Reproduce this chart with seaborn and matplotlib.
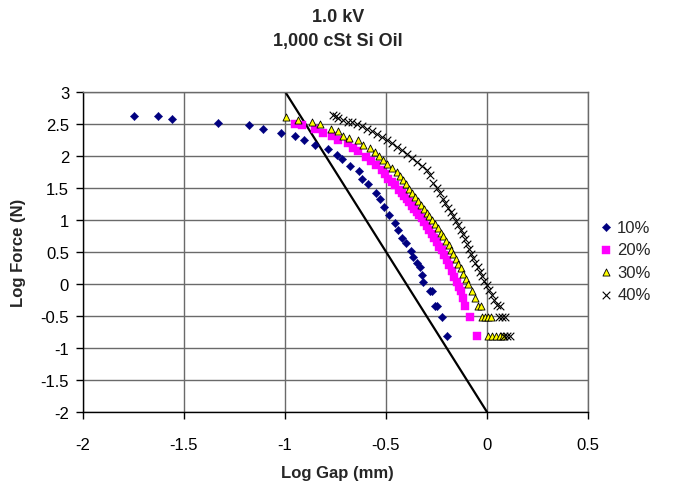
import numpy as np
import pandas as pd
import matplotlib
matplotlib.use("Agg")
import matplotlib.pyplot as plt
import seaborn as sns

# Log gap (mm) and log force (N) for each particle concentration
gap_10 = [-1.748, -1.627, -1.559, -1.332, -1.177, -1.109, -1.021, -0.949, -0.906,
          -0.851, -0.789, -0.744, -0.720, -0.678, -0.634, -0.618, -0.587, -0.551,
          -0.530, -0.510, -0.485, -0.455, -0.439, -0.422, -0.402, -0.376, -0.368,
          -0.348, -0.332, -0.323, -0.315, -0.282, -0.274, -0.257, -0.249, -0.224,
          -0.200]
force_10 = [2.61, 2.61, 2.57, 2.51, 2.47, 2.41, 2.36, 2.30, 2.24,
            2.16, 2.11, 2.01, 1.94, 1.84, 1.76, 1.64, 1.55, 1.42,
            1.32, 1.20, 1.07, 0.95, 0.84, 0.72, 0.63, 0.51, 0.42,
            0.32, 0.26, 0.13, 0.03, -0.12, -0.12, -0.35, -0.35, -0.52,
            -0.82]

gap_20 = [-0.949, -0.917, -0.851, -0.810, -0.769, -0.736, -0.690, -0.662, -0.637,
          -0.601, -0.574, -0.548, -0.521, -0.505, -0.489, -0.472, -0.455, -0.438,
          -0.422, -0.410, -0.398, -0.386, -0.373, -0.360, -0.348, -0.335, -0.323,
          -0.311, -0.299, -0.287, -0.274, -0.262, -0.249, -0.236, -0.224, -0.212,
          -0.200, -0.188, -0.175, -0.162, -0.150, -0.140, -0.130, -0.120, -0.109,
          -0.084, -0.051]
force_20 = [2.50, 2.47, 2.42, 2.36, 2.31, 2.25, 2.20, 2.12, 2.07,
            1.98, 1.92, 1.85, 1.77, 1.71, 1.64, 1.59, 1.54, 1.47,
            1.41, 1.37, 1.33, 1.27, 1.22, 1.17, 1.12, 1.07, 1.02,
            0.96, 0.90, 0.84, 0.78, 0.71, 0.65, 0.58, 0.52, 0.45,
            0.37, 0.29, 0.20, 0.11, 0.03, -0.05, -0.12, -0.22, -0.35,
            -0.52, -0.82]

gap_30 = [-0.997, -0.934, -0.865, -0.827, -0.772, -0.739, -0.711, -0.681, -0.637,
          -0.612, -0.579, -0.554, -0.533, -0.513, -0.493, -0.468, -0.447, -0.431,
          -0.415, -0.400, -0.385, -0.370, -0.355, -0.340, -0.326, -0.312, -0.299,
          -0.285, -0.271, -0.257, -0.243, -0.230, -0.216, -0.203, -0.190, -0.178,
          -0.166, -0.154, -0.142, -0.130, -0.117, -0.105, -0.092, -0.075, -0.059,
          -0.045, -0.030, -0.026, -0.010, 0.005, 0.020, 0.005, 0.025, 0.045,
          0.065, 0.080]
force_30 = [2.60, 2.56, 2.52, 2.49, 2.42, 2.38, 2.31, 2.28, 2.24,
            2.17, 2.12, 2.06, 2.00, 1.93, 1.87, 1.80, 1.74, 1.68,
            1.62, 1.55, 1.48, 1.42, 1.36, 1.29, 1.23, 1.17, 1.11,
            1.05, 0.99, 0.93, 0.87, 0.80, 0.74, 0.67, 0.60, 0.53,
            0.46, 0.39, 0.31, 0.24, 0.16, 0.08, -0.01, -0.12, -0.22,
            -0.35, -0.35, -0.52, -0.52, -0.52, -0.52, -0.82, -0.82, -0.82,
            -0.82, -0.82]

gap_40 = [-0.761, -0.748, -0.736, -0.711, -0.690, -0.670, -0.645, -0.620, -0.596,
          -0.571, -0.546, -0.521, -0.497, -0.472, -0.447, -0.423, -0.398, -0.373,
          -0.348, -0.323, -0.299, -0.282, -0.266, -0.250, -0.235, -0.220, -0.206,
          -0.193, -0.180, -0.167, -0.155, -0.143, -0.131, -0.120, -0.109, -0.099,
          -0.088, -0.078, -0.068, -0.058, -0.047, -0.035, -0.024, -0.013, -0.002,
          0.010, 0.023, 0.035, 0.048, 0.062, 0.060, 0.075, 0.089, 0.085,
          0.100, 0.115]
force_40 = [2.63, 2.61, 2.59, 2.55, 2.53, 2.52, 2.50, 2.46, 2.42,
            2.38, 2.34, 2.29, 2.24, 2.19, 2.13, 2.08, 2.03, 1.97,
            1.90, 1.84, 1.77, 1.69, 1.58, 1.49, 1.41, 1.33, 1.26,
            1.19, 1.12, 1.05, 0.98, 0.91, 0.84, 0.77, 0.70, 0.62,
            0.55, 0.47, 0.40, 0.33, 0.26, 0.19, 0.12, 0.05, -0.02,
            -0.10, -0.18, -0.25, -0.33, -0.35, -0.52, -0.52, -0.52, -0.82,
            -0.82, -0.82]

series_labels = ["10%", "20%", "30%", "40%"]

# Reference line of slope -5 through (-1, 3) and (0, -2)
ref_gap = [-1.0, 0.0]
ref_force = [3.0, -2.0]

x_ticks = [-2, -1.5, -1, -0.5, 0, 0.5]
y_ticks = [-2, -1.5, -1, -0.5, 0, 0.5, 1, 1.5, 2, 2.5, 3]

frames = []
for lab, g, f in zip(series_labels, [gap_10, gap_20, gap_30, gap_40],
                     [force_10, force_20, force_30, force_40]):
    frames.append(pd.DataFrame({"gap": g, "force": f, "series": lab}))
df = pd.concat(frames, ignore_index=True)

sns.set_theme(style="white")
plt.rcParams["font.family"] = ["Liberation Sans", "DejaVu Sans"]

W, H = 676, 489
fig = plt.figure(figsize=(W / 100, H / 100), dpi=100)
ax_l, ax_r, ax_t, ax_b = 83, 588, 92.5, 413
ax = fig.add_axes([ax_l / W, 1 - ax_b / H, (ax_r - ax_l) / W, (ax_b - ax_t) / H])

grid_c = "#6a6a6a"
for xv in x_ticks:
    ax.axvline(xv, color=grid_c, lw=1.0, zorder=0)
for yv in y_ticks:
    ax.axhline(yv, color=grid_c, lw=1.0, zorder=0)

sns.lineplot(x=ref_gap, y=ref_force, color="black", lw=1.6, ax=ax, zorder=2)

palette = {"10%": "#000080", "20%": "#FF00FF", "30%": "#FFFF00", "40%": "#000000"}
markers = {"10%": "D", "20%": "s", "30%": "^", "40%": "x"}
sizes_map = {"10%": 18, "20%": 26, "30%": 26, "40%": 30}

for lab in series_labels:
    sub = df[df["series"] == lab]
    kw = dict(marker=markers[lab], s=sizes_map[lab], color=palette[lab], zorder=3,
              label=lab, ax=ax)
    if lab == "30%":
        kw.update(edgecolor="black", linewidth=0.6)
    elif lab == "40%":
        kw.update(linewidth=0.8)
    else:
        kw.update(edgecolor=palette[lab], linewidth=0.3)
    sns.scatterplot(data=sub, x="gap", y="force", **kw)

ax.set_xlim(-2, 0.5)
ax.set_ylim(-2, 3)
ax.set_xticks(x_ticks)
ax.set_yticks(y_ticks)
ax.set_xticklabels([f"{v:g}" for v in x_ticks])
ax.set_yticklabels([f"{v:g}" for v in y_ticks])
ax.tick_params(axis="both", direction="out", length=5, width=1, color="black",
               labelsize=12, labelcolor="black", bottom=True, left=True)
ax.tick_params(axis="x", pad=13)
ax.tick_params(axis="y", pad=5)
for side in ["left", "bottom"]:
    ax.spines[side].set_color("black")
    ax.spines[side].set_linewidth(1.0)
for side in ["top", "right"]:
    ax.spines[side].set_color(grid_c)
    ax.spines[side].set_linewidth(1.0)

ax.set_xlabel("Log Gap (mm)", fontsize=12, fontweight="bold")
ax.set_ylabel("Log Force (N)", fontsize=12, fontweight="bold")
ax.xaxis.set_label_coords((337 - ax_l) / (ax_r - ax_l), (ax_b - 466) / (ax_b - ax_t))
ax.yaxis.set_label_coords((26 - ax_l) / (ax_r - ax_l), 0.5)

fig.text(0.5, 1 - 17 / H, "1.0 kV", ha="center", va="center",
         fontsize=13, fontweight="bold")
fig.text(0.5, 1 - 42 / H, "1,000 cSt Si Oil", ha="center", va="center",
         fontsize=13, fontweight="bold")

ax.legend(loc="center left", bbox_to_anchor=(1.005, (ax_b - 262) / (ax_b - ax_t)),
          frameon=False, fontsize=12, handletextpad=0.2, labelspacing=0.45,
          borderaxespad=0.0, handlelength=1.0)

fig.savefig("out.png", dpi=100)
